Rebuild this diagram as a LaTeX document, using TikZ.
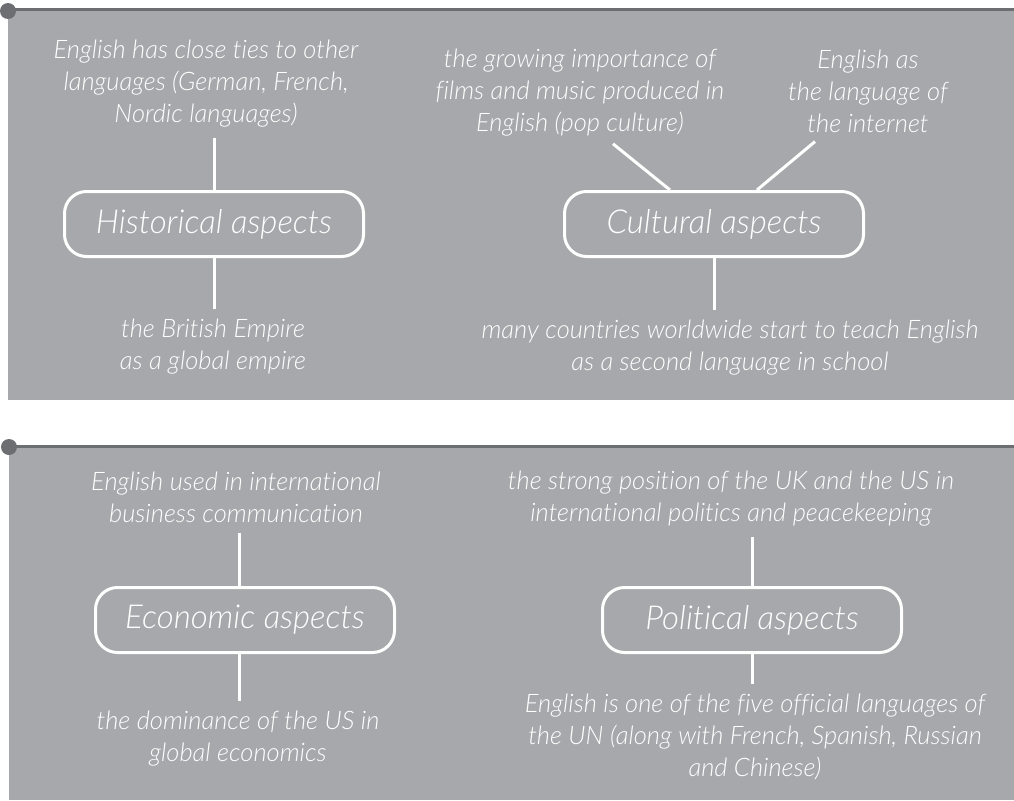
\documentclass[tikz,border=0pt]{standalone}
\usepackage{fontspec}
\setmainfont{Lato Light Italic}[Ligatures=CommonOff]
\usetikzlibrary{positioning}
\definecolor{panel}{HTML}{A7A8AB}
\definecolor{raya}{HTML}{6D6E71}

\begin{document}
\begin{tikzpicture}[
  x=1pt, y=-1pt,
  fondo/.style={fill=panel, draw=none},
  filo/.style={draw=raya, line width=3pt},
  punto/.style={fill=raya, draw=none},
  aspecto/.style={draw=white, line width=3pt, rounded corners=22pt, minimum width=299pt, minimum height=65pt, text=white, inner sep=0pt, font=\fontsize{33}{38}\selectfont},
  nota/.style={text=white, align=center, inner sep=0pt, font=\fontsize{25.5}{32}\selectfont},
  tallo/.style={draw=white, line width=3pt, shorten >=10pt},
  sesgo/.style={tallo, shorten >=0pt}
]
\useasboundingbox (0,0) rectangle (1014,800);

% two panels, each with its rule and dot
\fill[fondo] (8,10) rectangle (1014,400);
\draw[filo] (8,9.5) -- (1014,9.5);
\fill[punto] (8,11) circle (8pt);

\fill[fondo] (9,448) rectangle (1014,800);
\draw[filo] (8,446.5) -- (1014,446.5);
\fill[punto] (9,447) circle (8pt);

% aspects
\node[aspecto] (hist) at (214,224) {Historical aspects};
\node[aspecto] (cult) at (714,224) {Cultural aspects};
\node[aspecto] (econ) at (245,620) {Economic aspects};
\node[aspecto] (poli) at (752,620) {Political aspects};

% notes
\node[nota] (histtop) at (206,84) {English has close ties to other\\languages (German, French,\\Nordic languages)};
\node[nota] (histbot) at (213,347) {the British Empire\\as a global empire};
\node[nota] (pop) at (580,93) {the growing importance of\\films and music produced in\\English (pop culture)};
\node[nota] (web) at (868,91) {English as\\the language of\\the internet};
\node[nota] (cultbot) at (730,348) {many countries worldwide start to teach English\\as a second language in school};
\node[nota] (econtop) at (236,497) {English used in international\\business communication};
\node[nota] (econbot) at (238,739) {the dominance of the US in\\global economics};
\node[nota] (politop) at (731,499) {the strong position of the UK and the US in\\international politics and peacekeeping};
\node[nota] (polibot) at (755,737) {English is one of the five official languages of\\the UN (along with French, Spanish, Russian\\and Chinese)};

% stems
\draw[tallo] (hist.north) -- (hist.north |- histtop.south);
\draw[tallo] (hist.south) -- (hist.south |- histbot.north);
\draw[sesgo] ([xshift=-44pt]cult.north) -- ([xshift=33pt,yshift=-7pt]pop.south);
\draw[sesgo] ([xshift=43pt]cult.north) -- ([xshift=-53pt,yshift=-9pt]web.south);
\draw[tallo] (cult.south) -- (cult.south |- cultbot.north);
\draw[tallo] ([xshift=-6pt]econ.north) -- ([xshift=-6pt]econ.north |- econtop.south);
\draw[tallo] ([xshift=-6pt]econ.south) -- ([xshift=-6pt]econ.south |- econbot.north);
\draw[tallo] (poli.north) -- (poli.north |- politop.south);
\draw[tallo] (poli.south) -- (poli.south |- polibot.north);
\end{tikzpicture}
\end{document}
